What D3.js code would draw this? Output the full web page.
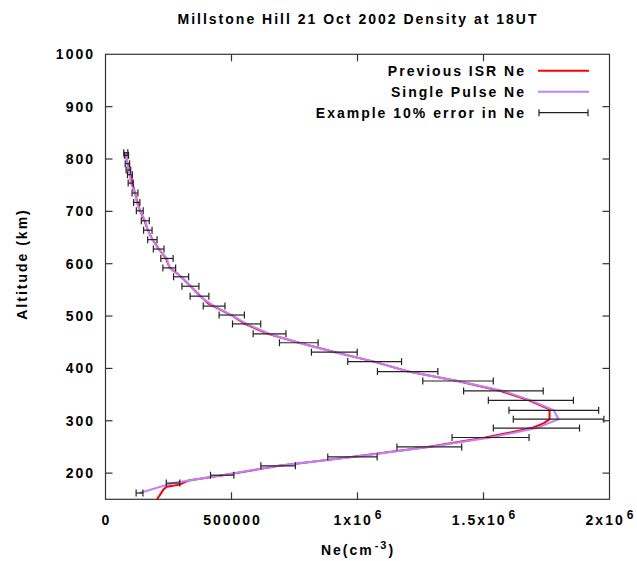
<!DOCTYPE html>
<html><head><meta charset="utf-8">
<script src="https://cdn.jsdelivr.net/npm/d3@7"></script>
<style>
body{margin:0;background:#fff;}
text{font-family:"Liberation Sans",Arial,sans-serif;font-weight:bold;fill:#000;letter-spacing:2px;}
</style></head>
<body><svg id="c" width="637" height="561"></svg>
<script>
// Single pulse Ne (purple), also the centres of the example 10% error bars
const spAlt = [812,807,791,779,770,754,735,717,701,682,664,646,628,610,592,575,557,538,519,502,485,466,449,431,413,394,376,357,339,320,303,286,268,250,231,214,196,181,162];
const spNe  = [80500,83000,87000,91000,97000,100000,117000,124000,136000,158000,168000,186000,211000,244000,253000,300000,337000,373000,431000,501000,560000,651000,767000,908000,1068000,1199000,1399000,1579000,1688000,1779000,1798000,1710000,1528000,1285000,980000,685000,463000,268000,135000];
// Previous ISR Ne (red)
const isrAlt = [812,795,778,760,742,722,701,682,664,646,628,610,600,592,575,557,538,524,502,485,466,449,431,413,394,376,357,339,322,303,295,286,268,250,231,214,196,186,178,174,169,159,150];
const isrNe  = [79000,86000,95000,104000,113000,124000,137000,155000,168000,187000,212000,240000,248000,256000,300000,338000,377000,407000,498000,553000,645000,768000,912000,1064000,1202000,1396000,1568000,1680000,1762000,1762000,1738000,1690000,1508000,1278000,975000,690000,466000,330000,295000,243000,230000,217000,204000];
const errFrac = 0.10;
const xTicks = [0,500000,1000000,1500000,2000000];
const xTickLabels = [["0",""],["500000",""],["1x10","6"],["1.5x10","6"],["2x10","6"]];
const yTicks = [200,300,400,500,600,700,800,900,1000];
const legendLabels = ["Previous ISR Ne","Single Pulse Ne","Example 10% error in Ne"];
const titleText = "Millstone Hill 21 Oct 2002 Density at 18UT";

const svg = d3.select("#c");
const L=105.5,R=609.5,T=54.3,B=499.3;
const x = d3.scaleLinear().domain([0,2000000]).range([L,R]);
const y = d3.scaleLinear().domain([150,1000]).range([B,T]);
const axisCol="#333";

// lines
const line = d3.line().x(d=>x(d[1])).y(d=>y(d[0]));
svg.append("path").datum(isrAlt.map((a,i)=>[a,isrNe[i]]))
  .attr("d",line).attr("fill","none").attr("stroke","#ff0000").attr("stroke-width",2);
svg.append("path").datum(spAlt.map((a,i)=>[a,spNe[i]]))
  .attr("d",line).attr("fill","none").attr("stroke","#c080ff").attr("stroke-width",2);

// error bars
const eb = svg.append("g").attr("stroke","#222").attr("stroke-width",1.2);
spAlt.forEach((a,i)=>{
  const v=spNe[i], lo=x(v*(1-errFrac)), hi=x(v*(1+errFrac)), yy=y(a);
  eb.append("line").attr("x1",lo).attr("x2",hi).attr("y1",yy).attr("y2",yy);
  eb.append("line").attr("x1",lo).attr("x2",lo).attr("y1",yy-3.5).attr("y2",yy+3.5);
  eb.append("line").attr("x1",hi).attr("x2",hi).attr("y1",yy-3.5).attr("y2",yy+3.5);
});

// border
svg.append("rect").attr("x",L).attr("y",T).attr("width",R-L).attr("height",B-T)
  .attr("fill","none").attr("stroke",axisCol).attr("stroke-width",1.2);

// ticks
const tk = svg.append("g").attr("stroke",axisCol).attr("stroke-width",1.2);
xTicks.forEach((t,i)=>{
  if(i>0 && i<xTicks.length-1){
    tk.append("line").attr("x1",x(t)).attr("x2",x(t)).attr("y1",B).attr("y2",B-7);
    tk.append("line").attr("x1",x(t)).attr("x2",x(t)).attr("y1",T).attr("y2",T+7);
  }
  const lab = svg.append("text").attr("x",x(t)+1).attr("y",B+26).attr("text-anchor","middle").attr("font-size",14);
  lab.append("tspan").text(xTickLabels[i][0]);
  if(xTickLabels[i][1]) lab.append("tspan").attr("dx",2).attr("dy",-6).attr("font-size",12).text(xTickLabels[i][1]);
});
yTicks.forEach(t=>{
  if(t<1000){
    tk.append("line").attr("x1",L).attr("x2",L+7).attr("y1",y(t)).attr("y2",y(t));
    tk.append("line").attr("x1",R).attr("x2",R-7).attr("y1",y(t)).attr("y2",y(t));
  }
  svg.append("text").attr("x",95).attr("y",y(t)+5).attr("text-anchor","end").attr("font-size",14).text(t);
});

// title
svg.append("text").attr("x",358).attr("y",24).attr("text-anchor","middle").attr("font-size",14).text(titleText);
// axis labels
const xl = svg.append("text").attr("x",358).attr("y",555).attr("text-anchor","middle").attr("font-size",14);
xl.append("tspan").text("Ne(cm");
xl.append("tspan").attr("dx",1).attr("dy",-6).attr("font-size",11).text("-3");
xl.append("tspan").attr("dy",6).text(")");
svg.append("text").attr("transform","translate(27,264) rotate(-90)").attr("text-anchor","middle").attr("font-size",14).text("Altitude (km)");

// legend
const lg = svg.append("g");
const ly=[70.7,91.7,112.7];
legendLabels.forEach((s,i)=>{
  lg.append("text").attr("x",526).attr("y",ly[i]+5).attr("text-anchor","end").attr("font-size",14).text(s);
});
lg.append("line").attr("x1",538).attr("x2",589).attr("y1",ly[0]).attr("y2",ly[0]).attr("stroke","#ff0000").attr("stroke-width",2);
lg.append("line").attr("x1",538).attr("x2",589).attr("y1",ly[1]).attr("y2",ly[1]).attr("stroke","#c080ff").attr("stroke-width",2);
const le = lg.append("g").attr("stroke","#222").attr("stroke-width",1.2);
le.append("line").attr("x1",539).attr("x2",588).attr("y1",ly[2]).attr("y2",ly[2]);
le.append("line").attr("x1",539).attr("x2",539).attr("y1",ly[2]-3.5).attr("y2",ly[2]+3.5);
le.append("line").attr("x1",588).attr("x2",588).attr("y1",ly[2]-3.5).attr("y2",ly[2]+3.5);
</script></body></html>
